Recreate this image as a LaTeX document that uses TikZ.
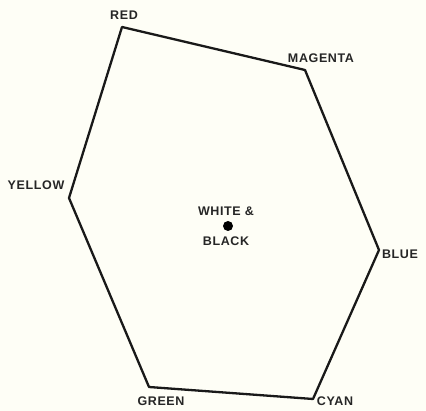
\documentclass[tikz,border=0pt]{standalone}
\usepackage{fontspec}
\setmainfont{Liberation Sans}[LetterSpace=5]
\begin{document}
\begin{tikzpicture}[x=1pt,y=1pt,
  lbl/.style={font=\fontsize{12.5}{13}\selectfont\bfseries, inner sep=0pt, text=black!85},
  edge/.style={line width=2.3pt, line join=round, black!90}]
\definecolor{paper}{rgb}{0.995,0.995,0.965}
\fill[paper] (0,0) rectangle (426,411);
\useasboundingbox (0,0) rectangle (426,411);
% vertices
\coordinate (red) at (122,384);
\coordinate (magenta) at (305,341);
\coordinate (blue) at (379,161);
\coordinate (cyan) at (313,12);
\coordinate (green) at (149,24);
\coordinate (yellow) at (69,213);
\draw[edge] (red) -- (magenta) -- (blue) -- (cyan) -- (green) -- (yellow) -- cycle;
% center
\node[circle, fill=black, inner sep=0pt, minimum size=10pt] (wb) at (228,185) {};
\node[lbl] (wbt) at (226,200) {WHITE \&};
\node[lbl] (wbb) at (226,170) {BLACK};
% labels
\node[lbl] (lred) at (124,396) {RED};
\node[lbl] (lmag) at (321,353) {MAGENTA};
\node[lbl] (lyel) at (36,226) {YELLOW};
\node[lbl] (lblue) at (400,157) {BLUE};
\node[lbl] (lgreen) at (161,10) {GREEN};
\node[lbl] (lcyan) at (335,10) {CYAN};
\end{tikzpicture}
\end{document}
